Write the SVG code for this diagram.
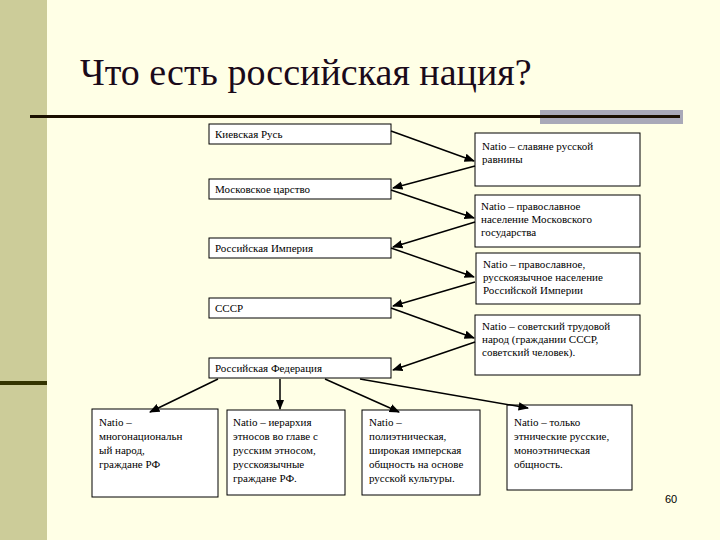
<svg xmlns="http://www.w3.org/2000/svg" width="720" height="540" viewBox="0 0 720 540">
<style>
.b{fill:#fff;stroke:#000;stroke-width:1}
.t{font-family:"Liberation Serif","Times New Roman","DejaVu Serif",serif;font-size:11px;fill:#000}
.h{font-family:"Liberation Serif","Times New Roman","DejaVu Serif",serif;font-size:38px;fill:#1a0a1a}
.c line{stroke:#000;stroke-width:1.5;marker-end:url(#a)}
</style>
<defs><marker id="a" viewBox="0 0 10 10" refX="9" refY="5" markerWidth="7" markerHeight="7" orient="auto"><path d="M0,1L10,5L0,9z" fill="#000"/></marker></defs>
<rect width="720" height="540" fill="#FFFFE6"/>
<rect width="47" height="540" fill="#CCCC99"/>
<rect x="0" y="381" width="47" height="4" fill="#333300"/>
<rect x="540" y="110" width="143" height="14" fill="#A9A9B8"/>
<rect x="30" y="115" width="650" height="3" fill="#1a0f00"/>
<text class="h" x="80" y="85">Что есть российская нация?</text>
<g id="n1"><rect class="b" x="209" y="124" width="182" height="20"/><text class="t" x="215" y="138">Киевская Русь</text></g>
<g id="n2"><rect class="b" x="209" y="179" width="182" height="20"/><text class="t" x="215" y="193">Московское царство</text></g>
<g id="n3"><rect class="b" x="209" y="238" width="182" height="20"/><text class="t" x="215" y="252">Российская Империя</text></g>
<g id="n4"><rect class="b" x="209" y="298" width="182" height="20"/><text class="t" x="215" y="312">СССР</text></g>
<g id="n5"><rect class="b" x="209" y="358" width="182" height="20"/><text class="t" x="215" y="372">Российская Федерация</text></g>
<g id="r1"><rect class="b" x="475" y="133" width="165" height="53"/><text class="t" x="482" y="150">Natio – славяне русской<tspan x="482" dy="13">равнины</tspan></text></g>
<g id="r2"><rect class="b" x="475" y="195" width="165" height="52"/><text class="t" x="481" y="210">Natio – православное<tspan x="481" dy="13">население Московского</tspan><tspan x="481" dy="13">государства</tspan></text></g>
<g id="r3"><rect class="b" x="476" y="253" width="164" height="51"/><text class="t" x="483" y="268">Natio – православное,<tspan x="483" dy="13">русскоязычное  население</tspan><tspan x="483" dy="13">Российской Империи</tspan></text></g>
<g id="r4"><rect class="b" x="475" y="315" width="165" height="60"/><text class="t" x="482" y="330">Natio – советский трудовой<tspan x="482" dy="13">народ (граждании СССР,</tspan><tspan x="482" dy="13">советский человек).</tspan></text></g>
<g id="b1"><rect class="b" x="92" y="409" width="126" height="88"/><text class="t" x="99" y="426">Natio –<tspan x="99" dy="14">многонациональн</tspan><tspan x="99" dy="14">ый народ,</tspan><tspan x="99" dy="14">граждане РФ</tspan></text></g>
<g id="b2"><rect class="b" x="227" y="410" width="118" height="85"/><text class="t" x="233" y="426">Natio – иерархия<tspan x="233" dy="14">этносов во главе с</tspan><tspan x="233" dy="14">русским этносом,</tspan><tspan x="233" dy="14">русскоязычные</tspan><tspan x="233" dy="14">граждане РФ.</tspan></text></g>
<g id="b3"><rect class="b" x="362" y="410" width="118" height="85"/><text class="t" x="369" y="426">Natio –<tspan x="369" dy="14">полиэтническая,</tspan><tspan x="369" dy="14">широкая имперская</tspan><tspan x="369" dy="14">общность на основе</tspan><tspan x="369" dy="14">русской культуры.</tspan></text></g>
<g id="b4"><rect class="b" x="507" y="405" width="125" height="85"/><text class="t" x="514" y="426">Natio – только<tspan x="514" dy="14">этнические русские,</tspan><tspan x="514" dy="14">моноэтническая</tspan><tspan x="514" dy="14">общность.</tspan></text></g>
<g class="c">
<line x1="391" y1="131" x2="474" y2="161"/>
<line x1="475" y1="166" x2="393" y2="188"/>
<line x1="391" y1="190" x2="474" y2="218"/>
<line x1="475" y1="222" x2="393" y2="247"/>
<line x1="391" y1="248" x2="474" y2="277"/>
<line x1="475" y1="282" x2="393" y2="306"/>
<line x1="391" y1="308" x2="474" y2="338"/>
<line x1="475" y1="342" x2="393" y2="370"/>
<line x1="218" y1="379" x2="150" y2="412"/>
<line x1="280" y1="379" x2="280" y2="409"/>
<line x1="325" y1="379" x2="399" y2="412"/>
<line x1="360" y1="379" x2="528" y2="408"/>
</g>
<text x="665" y="503" font-family="Liberation Sans,sans-serif" font-size="11">60</text>
</svg>
